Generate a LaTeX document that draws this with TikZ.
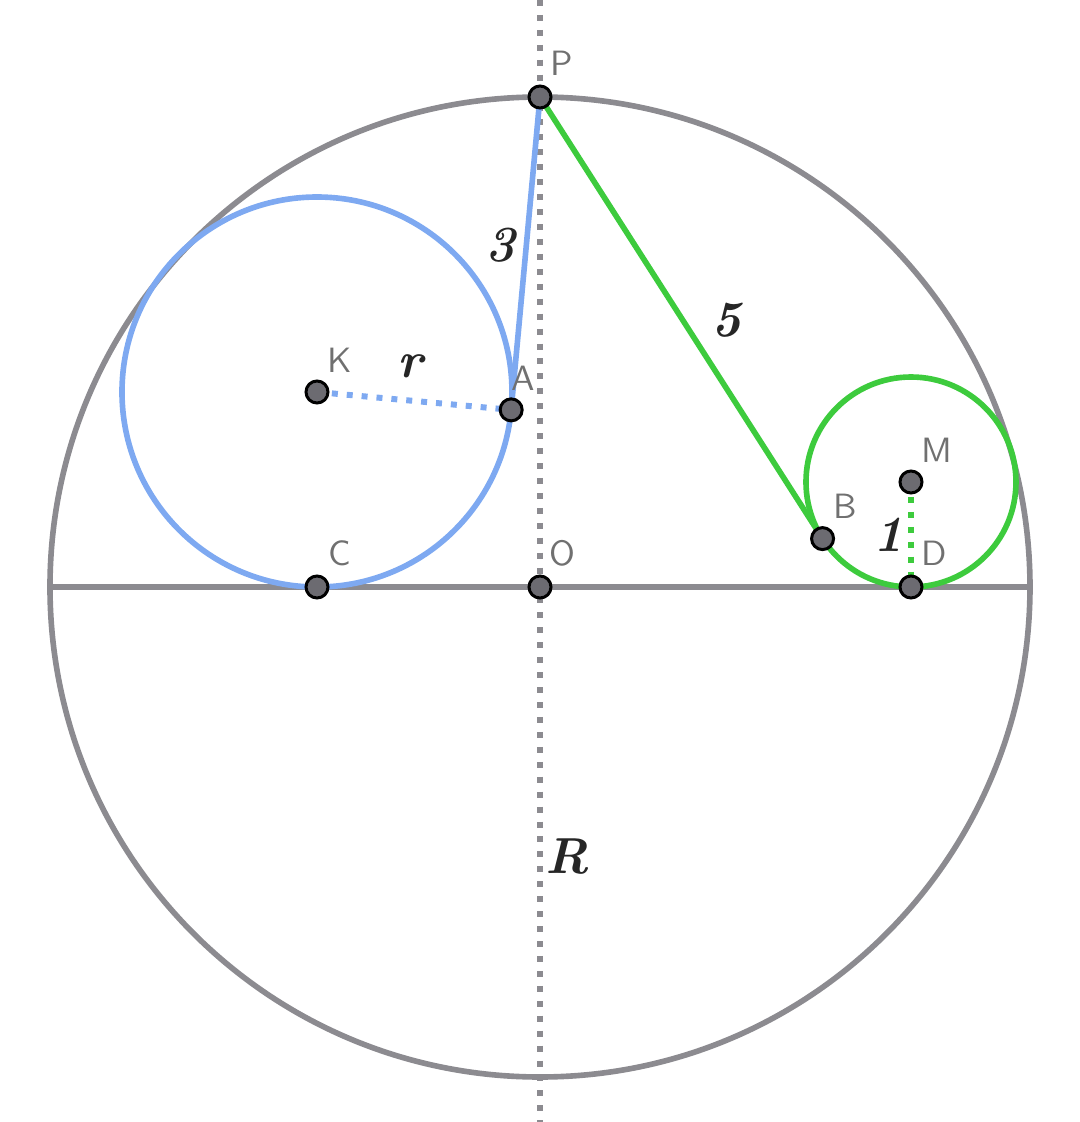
\documentclass[tikz,border=0pt]{standalone}
\usepackage{tikz}
\usetikzlibrary{calc}

\definecolor{rimgray}{HTML}{8C8B90}
\definecolor{ptgray}{HTML}{6C6B71}
\definecolor{lblgray}{HTML}{707070}
\definecolor{kblue}{HTML}{7EA9F1}
\definecolor{mgreen}{HTML}{3DCB3D}

\tikzset{
	rim/.style={rimgray, line width=1.6pt},
	wire/.style={line width=1.6pt},
	dots/.style={line width=1.7pt, dash pattern=on 1.7pt off 2.55pt},
	pt/.style={circle, fill=ptgray, draw=black, line width=0.85pt, inner sep=0pt, minimum size=2.2mm},
	lbl/.style={text=lblgray, font=\sffamily},
	val/.style={text=black!85, font=\Large\bfseries\itshape}
}

\begin{document}
\begin{tikzpicture}
	\useasboundingbox (-5.40,-5.35) rectangle (5.40,5.87);

	%points
	\coordinate (O) at (0,0);
	\coordinate (P) at (0,4.90);
	\coordinate (K) at (-2.23,1.95);
	\coordinate (C) at (-2.23,0);
	\coordinate (A) at ([shift={(-5.26:1.95)}]K);
	\coordinate (M) at (3.71,1.05);
	\coordinate (D) at (3.71,0);
	\coordinate (B) at ([shift={(212.62:1.05)}]M);
	\coordinate (Wl) at (-4.90,0);
	\coordinate (Wr) at (4.90,0);
	\coordinate (Top) at (0,5.87);
	\coordinate (Bot) at (0,-5.35);

	%big circle, diameter, axis
	\draw[rim] (O) circle (4.90);
	\draw[rim] (Wl) -- (Wr);
	\draw[dots, rimgray] (Top) -- (Bot);

	%small circles
	\draw[wire, kblue] (K) circle (1.95);
	\draw[wire, mgreen] (M) circle (1.05);

	%tangents and radii
	\draw[wire, kblue] (P) -- (A);
	\draw[wire, mgreen] (P) -- (B);
	\draw[dots, kblue] (K) -- (A);
	\draw[dots, mgreen] (M) -- (D);

	%dots
	\foreach \p in {P,K,A,C,O,B,M,D}
		\node[pt] (dot\p) at (\p) {};

	%point names
	\node[lbl] (lblP) at ([shift={(0.22,0.34)}]P) {P};
	\node[lbl] (lblK) at ([shift={(0.23,0.32)}]K) {K};
	\node[lbl] (lblA) at ([shift={(0.12,0.32)}]A) {A};
	\node[lbl] (lblC) at ([shift={(0.23,0.34)}]C) {C};
	\node[lbl] (lblO) at ([shift={(0.22,0.34)}]O) {O};
	\node[lbl] (lblB) at ([shift={(0.23,0.32)}]B) {B};
	\node[lbl] (lblM) at ([shift={(0.26,0.32)}]M) {M};
	\node[lbl] (lblD) at ([shift={(0.23,0.34)}]D) {D};

	%lengths
	\node[val] (lenPA) at (-0.40,3.42) {3};
	\node[val] (lenPB) at (1.86,2.67) {5};
	\node[val] (lenr) at (-1.30,2.21) {r};
	\node[val] (len1) at (3.48,0.52) {1};
	\node[val] (lenR) at (0.27,-2.70) {R};
\end{tikzpicture}
\end{document}
